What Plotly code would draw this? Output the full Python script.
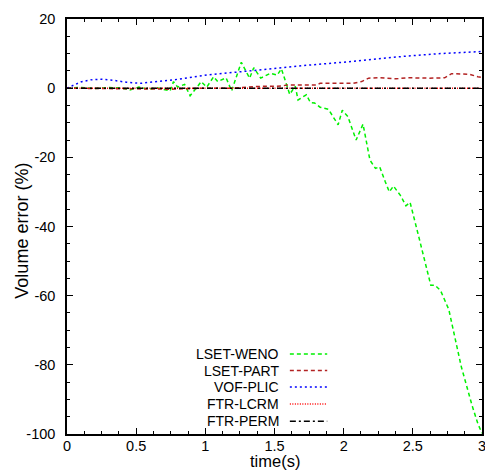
import plotly.graph_objects as go

# ---- data ----
weno_t = [0, 0.1, 0.2, 0.3, 0.4, 0.455, 0.52, 0.59, 0.65, 0.71, 0.745, 0.77, 0.80, 0.85, 0.89,
          0.94, 0.97, 1.01, 1.06, 1.09, 1.15, 1.19, 1.26, 1.32, 1.35, 1.40, 1.47, 1.52, 1.55,
          1.61, 1.65, 1.67, 1.73, 1.76, 1.79, 1.83, 1.89, 1.96, 1.99, 2.03, 2.09, 2.14, 2.19,
          2.23, 2.26, 2.30, 2.33, 2.36, 2.41, 2.45, 2.48, 2.54, 2.60, 2.63, 2.66, 2.70, 2.76,
          2.80, 2.85, 2.93, 2.97, 3.0]
weno_v = [0, 0.2, -0.1, 0.2, 0, -0.5, 0.3, -0.3, 0.1, -0.5, -0.8, 1.9, 0.3, 1.1, -2.2,
          0.3, 1.9, 0.3, 3.3, 1.9, 3.0, -0.8, 7.5, 2.9, 5.9, 2.9, 4.3, 3.8, 5.6,
          -1.8, 0.6, -3.4, -1.9, -4.2, -4.3, -5.5, -6.1, -10.6, -6.4, -8.2, -15, -10.4, -20.8,
          -23.2, -22.7, -27, -30, -28.3, -31, -34, -33, -42.5, -52, -57, -57, -58.5, -64,
          -71, -80.5, -92, -97, -99.8]

part_t = [0, 0.5, 0.6, 0.75, 1.0, 1.2, 1.3, 1.37, 1.55, 1.59, 1.80, 1.83, 2.07, 2.13, 2.18,
          2.26, 2.38, 2.46, 2.62, 2.73, 2.78, 2.91, 2.97, 3.0]
part_v = [0, -0.1, -0.3, -0.3, 0, 0, 0.3, 0.5, 0.6, 0.9, 0.9, 1.4, 1.4, 1.9, 2.9,
          3.0, 2.7, 3.0, 2.9, 3.0, 4.2, 4.0, 3.3, 3.1]

vof_t = [0, 0.05, 0.1, 0.17, 0.24, 0.33, 0.43, 0.53, 0.62, 0.77, 1.01, 1.25, 1.49, 1.73,
         1.97, 2.21, 2.46, 2.70, 2.96, 3.0]
vof_v = [0, 0.9, 1.8, 2.4, 2.6, 2.3, 1.7, 1.4, 1.8, 2.4, 3.8, 4.8, 5.6, 6.6,
         7.4, 8.4, 9.3, 10.0, 10.5, 10.6]

lcrm_t = [0, 0.5, 1.0, 1.5, 2.0, 2.5, 3.0]
lcrm_v = [0, 0, 0, 0, 0, 0, 0]

perm_t = [0, 0.5, 1.0, 1.5, 2.0, 2.5, 3.0]
perm_v = [0, 0, 0, 0, 0, 0, 0]

x_tickvals = [0, 0.5, 1, 1.5, 2, 2.5, 3]
x_ticktext = ["0", "0.5", "1", "1.5", "2", "2.5", "3"]
y_tickvals = [20, 0, -20, -40, -60, -80, -100]
y_ticktext = ["20", "0", "-20", "-40", "-60", "-80", "-100"]

names = ["LSET-WENO", "LSET-PART", "VOF-PLIC", "FTR-LCRM", "FTR-PERM"]
colors = ["#00f000", "#b22222", "#0000ff", "#ff0000", "#000000"]
dashes = ["4px,3px", "4px,3px", "2px,3px", "1px,1.5px", "6px,3px,2px,3px"]
series = [(weno_t, weno_v), (part_t, part_v), (vof_t, vof_v), (lcrm_t, lcrm_v), (perm_t, perm_v)]

FONT = "Liberation Sans, Arial, sans-serif"

fig = go.Figure()
for (t, v), n, c, d in zip(series, names, colors, dashes):
    fig.add_trace(go.Scatter(x=t, y=v, mode="lines", name=n,
                             line=dict(color=c, width=1.5, dash=d), showlegend=False))

# manual legend: right-aligned text, sample line to the right
row_y = [0.193, 0.153, 0.113, 0.072, 0.031]
for n, c, d, yy in zip(names, colors, dashes, row_y):
    fig.add_annotation(xref="paper", yref="paper", x=0.515, y=yy, text=n, showarrow=False,
                       xanchor="right", yanchor="middle",
                       font=dict(family=FONT, size=14, color="black"))
    fig.add_shape(type="line", xref="paper", yref="paper", x0=0.537, x1=0.627, y0=yy, y1=yy,
                  line=dict(color=c, width=1.5, dash=d))

# axis titles as annotations
fig.add_annotation(xref="paper", yref="paper", x=0, y=0.49, xshift=-45, text="Volume error (%)",
                   textangle=-90, showarrow=False, xanchor="center", yanchor="middle",
                   font=dict(family=FONT, size=18, color="black"))
fig.add_annotation(xref="paper", yref="paper", x=0.5, y=0, yshift=-37, text="time(s)",
                   showarrow=False, xanchor="center", yanchor="bottom", borderpad=0,
                   font=dict(family=FONT, size=16.5, color="black"))

axis_common = dict(showline=True, linecolor="black", linewidth=1.5, mirror="ticks",
                   ticks="inside", ticklen=6, tickwidth=1, tickcolor="black",
                   showgrid=False, zeroline=False, ticklabeloverflow="allow",
                   tickfont=dict(family=FONT, size=14.5, color="black"))

fig.update_xaxes(range=[0, 3], tickmode="array", tickvals=x_tickvals, ticktext=x_ticktext,
                 ticklabelstandoff=-2,
                 minor=dict(ticks="inside", ticklen=3, tick0=0, dtick=0.125, tickcolor="black", showgrid=False),
                 automargin=False, **axis_common)
fig.update_yaxes(range=[-100, 20], tickmode="array", tickvals=y_tickvals, ticktext=y_ticktext,
                 ticklabelstandoff=7,
                 minor=dict(ticks="inside", ticklen=3, tick0=0, dtick=5, tickcolor="black", showgrid=False),
                 automargin=False, **axis_common)

fig.update_layout(width=485, height=471, margin=dict(l=67, r=3, t=19, b=37),
                  plot_bgcolor="white", paper_bgcolor="white", showlegend=False)

fig.write_html("out.html", config={"displayModeBar": False},
               post_script="document.body.style.margin='0px';")
